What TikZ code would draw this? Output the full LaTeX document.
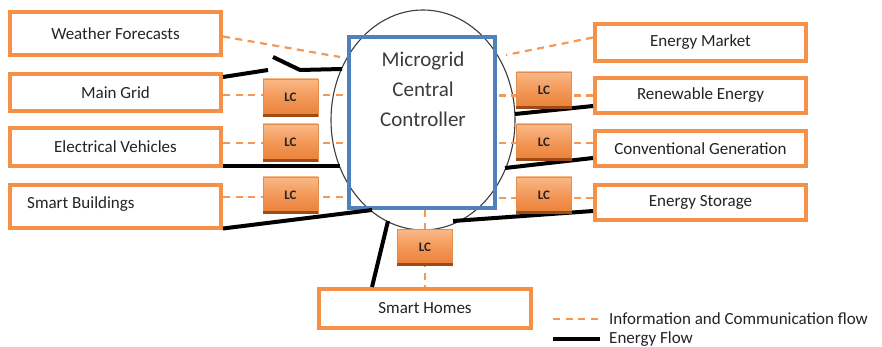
\documentclass[tikz,border=0pt]{standalone}
\usepackage{fontspec}
\setmainfont{Carlito}
\usetikzlibrary{calc,shapes.geometric}
\definecolor{boxor}{RGB}{245,145,70}
\definecolor{dashor}{RGB}{244,152,88}
\definecolor{lctop}{RGB}{250,185,135}
\definecolor{lcmid}{RGB}{242,152,88}
\definecolor{lcbot}{RGB}{234,128,55}
\definecolor{lcedge}{RGB}{228,140,75}
\definecolor{lcshadow}{RGB}{160,75,20}
\definecolor{ctrlblue}{RGB}{79,129,189}
\definecolor{txt}{RGB}{35,35,40}
\definecolor{ctrltxt}{RGB}{60,60,60}
\definecolor{ellgray}{RGB}{60,60,60}
\begin{document}
\begin{tikzpicture}[x=1pt,y=-1pt,
  outbox/.style={draw=boxor, line width=4pt, fill=white, minimum width=211pt, inner sep=0pt, font=\fontsize{17}{20}\selectfont, text=txt},
  lcbox/.style={top color=lctop, bottom color=lcbot, middle color=lcmid, draw=lcedge, line width=0.5pt, minimum width=55pt, minimum height=36pt, inner sep=0pt, font=\fontsize{13}{15}\selectfont\bfseries, text=txt},
  info/.style={draw=dashor, line width=2.2pt, dash pattern=on 7pt off 5.5pt},
  energy/.style={draw=black, line width=4pt},
  lbl/.style={font=\fontsize{17}{20}\selectfont, text=txt, inner sep=0pt}]
\fill[white] (0,0) rectangle (882,347);
\useasboundingbox (0,0) rectangle (882,347);

% outer boxes
\node[outbox, minimum height=43pt] (wf) at (115.5,33.5) {Weather Forecasts};
\node[outbox, minimum height=37pt] (mg) at (115.5,92.5) {Main Grid};
\node[outbox, minimum height=38pt] (ev) at (115.5,147) {Electrical Vehicles};
\node[outbox, minimum height=43pt] (sb) at (115.5,206.5) {};
\node[lbl, anchor=west] (sbl) at (27,204) {Smart Buildings};
\node[outbox, minimum height=37pt] (em) at (700.5,42.5) {Energy Market};
\node[outbox, minimum height=35pt] (re) at (700.5,95.5) {Renewable Energy};
\node[outbox, minimum height=35pt] (cg) at (700.5,148.5) {Conventional Generation};
\node[outbox, minimum height=35pt] (es) at (700.5,202.5) {Energy Storage};
\node[outbox, minimum width=212pt, minimum height=39pt] (sh) at (425,308.5) {Smart Homes};

% controller
\node[draw=ellgray, line width=1.1pt, ellipse, minimum width=184pt, minimum height=220pt, inner sep=0pt] (ell) at (423,120) {};
\node[draw=ctrlblue, line width=4pt, minimum width=146pt, minimum height=171pt, inner sep=0pt] (ctrl) at (422,122.5) {};
\node[font=\fontsize{21}{30}\selectfont, text=ctrltxt, align=center, inner sep=0pt] (ctrltext) at (423,89) {Microgrid\\Central\\Controller};

% information flow
\coordinate (wfin) at (340,57);
\coordinate (emin) at (506,55);
\draw[info] ([yshift=-3pt]wf.east) -- (wfin);
\draw[info] ([yshift=5pt]em.west) -- (emin);
\path ([yshift=-2.5pt]mg.east) coordinate (d1)
      ([yshift=4pt]ev.east) coordinate (d2)
      ([yshift=9.5pt]sb.east) coordinate (d3)
      (re.west) coordinate (d4)
      ([yshift=5.5pt]cg.west) coordinate (d5)
      ([yshift=4.5pt]es.west) coordinate (d6);
\foreach \d in {d1,d2,d3} \draw[info] (\d) -- (\d -| ctrl.west);
\foreach \d in {d4,d5,d6} \draw[info] (\d) -- (\d -| ctrl.east);
\draw[info] (sh.north |- ctrl.south) -- (sh.north);

% energy flow
\coordinate (sw1) at (268,70);
\coordinate (sw2) at (273,57);
\coordinate (sw3) at (300,70);
\coordinate (mgin) at (342,69);
\coordinate (evin) at (340,166.5);
\coordinate (sbin) at (372,210);
\coordinate (shout) at (388,221);
\coordinate (rein) at (515,114);
\coordinate (cgin) at (505,168);
\coordinate (esin) at (453,221);
\draw[energy] ([yshift=-5pt]mg.north east) -- (sw1);
\draw[energy] (sw2) -- (sw3) -- (mgin);
\draw[energy] ([yshift=1.5pt]ev.south east) -- (evin);
\draw[energy] ([yshift=1.5pt]sb.south east) -- (sbin);
\draw[energy] (shout) -- ([xshift=55pt]sh.north west);
\draw[energy] (rein) -- ([yshift=9pt]re.south west);
\draw[energy] (cgin) -- ([yshift=10pt]cg.south west);
\draw[energy] (esin) -- ([yshift=11pt]es.south west);

% local controllers
\node[lcbox, minimum height=37pt] (l1) at (290.5,97.5) {LC};
\node[lcbox, minimum height=37pt] (l2) at (290.5,142.5) {LC};
\node[lcbox] (l3) at (290.5,195) {LC};
\node[lcbox] (r1) at (544,90) {LC};
\node[lcbox] (r2) at (544,142) {LC};
\node[lcbox] (r3) at (544,195) {LC};
\node[lcbox] (b1) at (425,247) {LC};
\foreach \n in {l1,l2,l3,r1,r2,r3,b1}
  \draw[lcshadow, line width=2.5pt] ([yshift=0.8pt]\n.south west) -- ([yshift=0.8pt]\n.south east);

% legend
\node[lbl, anchor=base west] (leg1) at (609,324.5) {Information and Communication flow};
\draw[info] ([xshift=-56pt,yshift=5.5pt]leg1.base west) -- ([xshift=-9pt,yshift=5.5pt]leg1.base west);
\node[lbl, anchor=base west] (leg2) at (609,343) {Energy Flow};
\draw[energy] ([xshift=-56pt,yshift=4.5pt]leg2.base west) -- ([xshift=-9pt,yshift=4.5pt]leg2.base west);
\end{tikzpicture}
\end{document}
